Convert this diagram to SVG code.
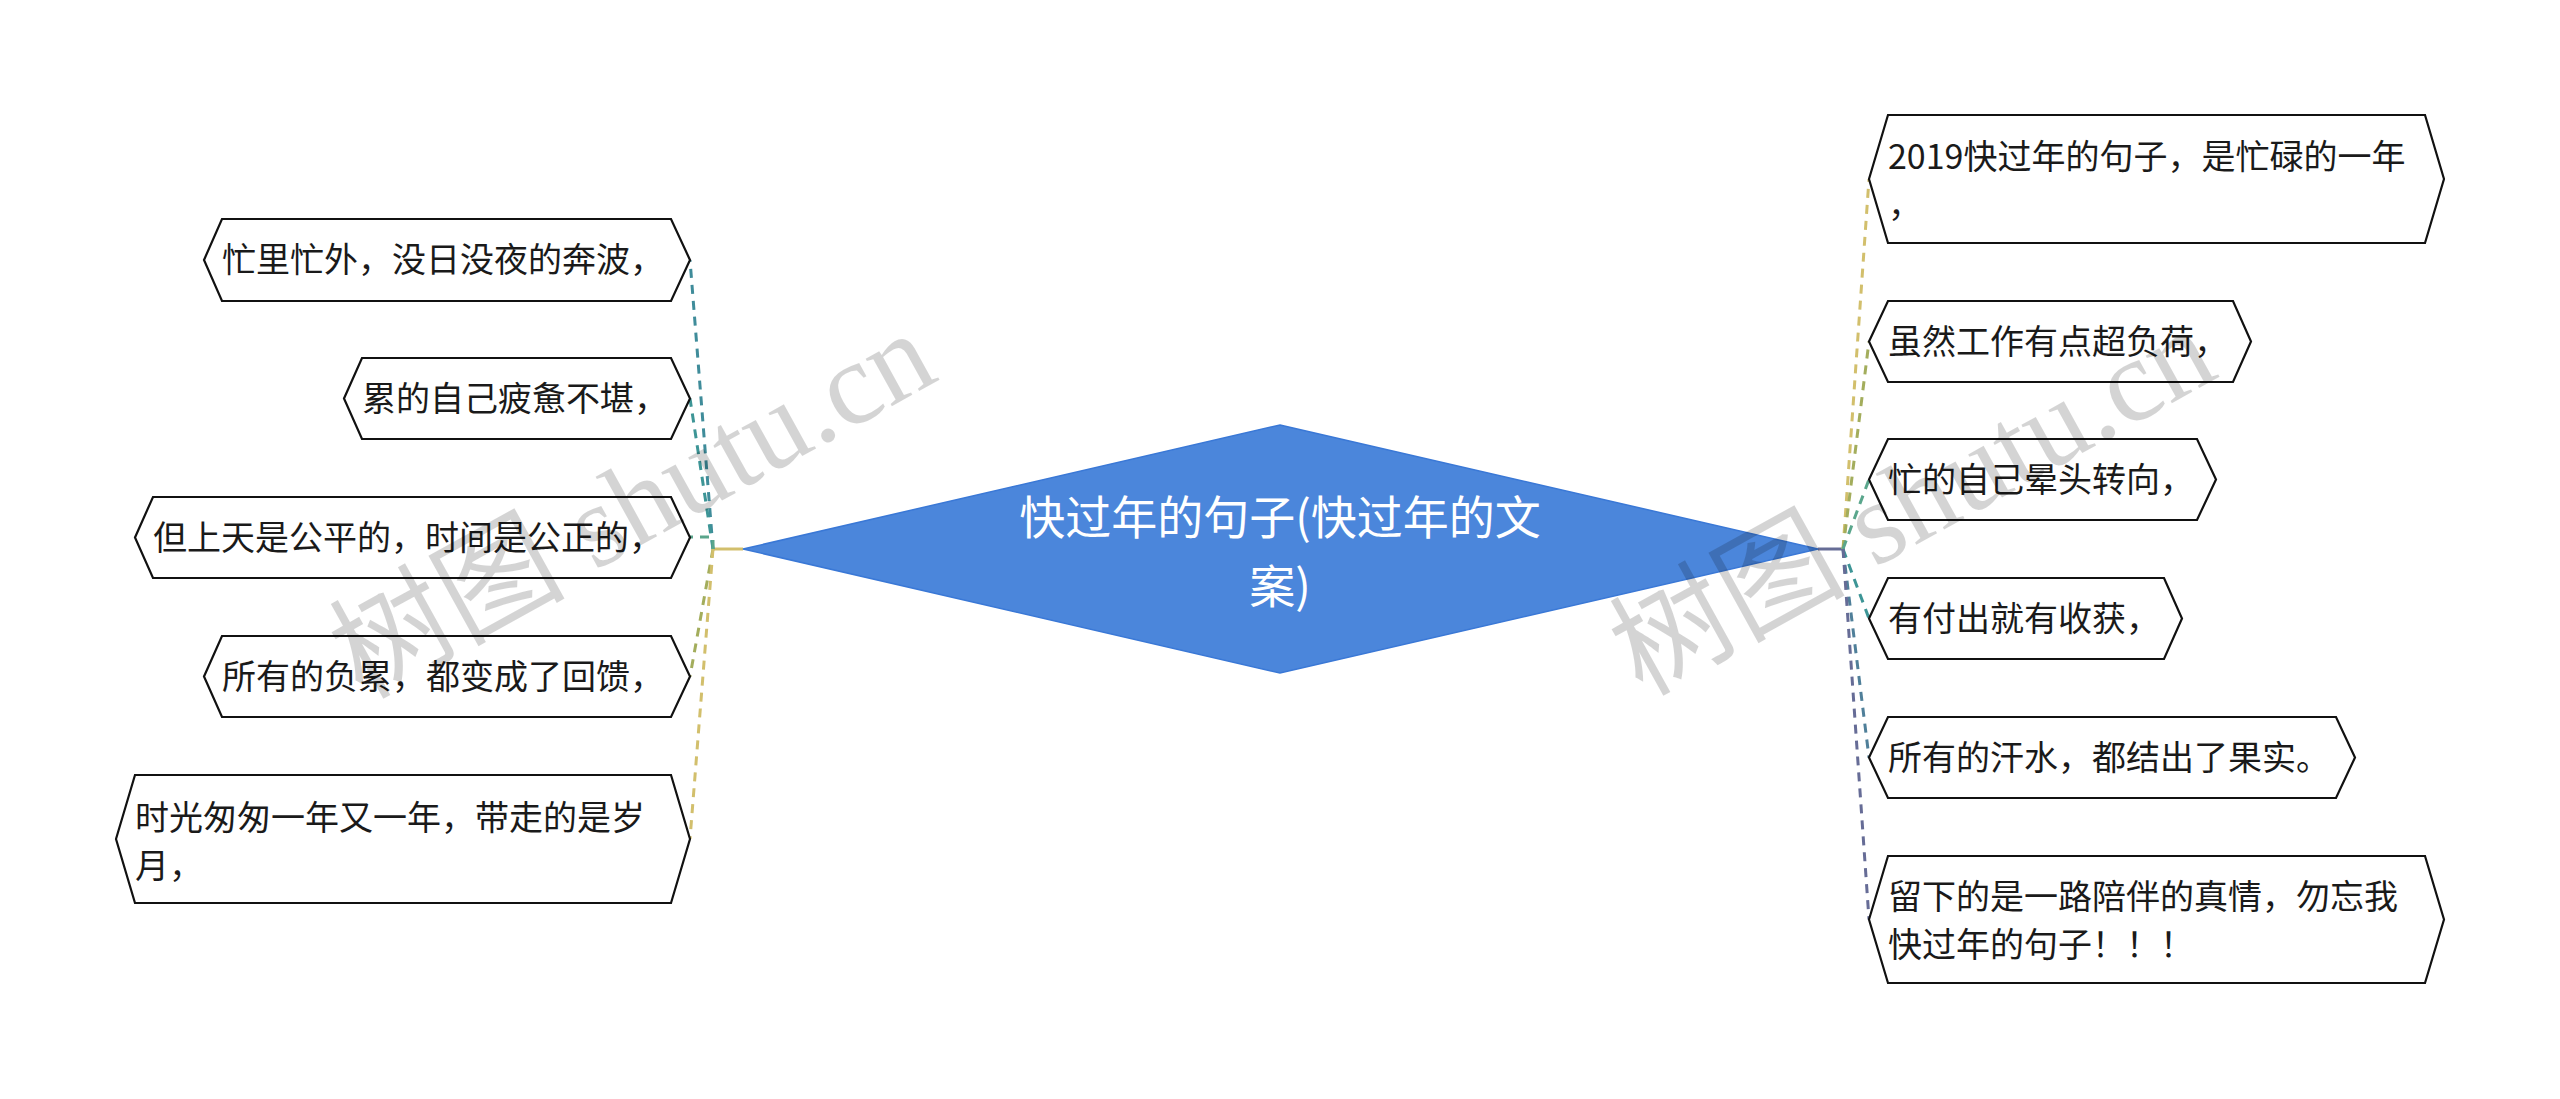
<svg xmlns="http://www.w3.org/2000/svg" width="2560" height="1099" viewBox="0 0 2560 1099">
<style>
.bg{fill:#ffffff}
.box{fill:#ffffff;stroke:#111111;stroke-width:2.2;stroke-linejoin:miter}
.t{font-family:"Noto Sans CJK SC","Noto Sans",sans-serif;font-size:34px;fill:#1a1a1a}
.ct{font-family:"Noto Sans CJK SC","Noto Sans",sans-serif;font-size:46px;fill:#ffffff;text-anchor:middle}
.c{fill:none;stroke-width:3;stroke-dasharray:9 7}
.stub{fill:none;stroke-width:3}
.wm{font-family:"Liberation Serif","Noto Sans CJK SC",serif;font-size:118px;fill:#000000;fill-opacity:0.17}
</style>
<rect class="bg" x="0" y="0" width="2560" height="1099"/>

<g id="connectors">
  <path class="stub" stroke="#d2bf6c" d="M743 549 H713"/>
  <path class="c" stroke="#3f8c9a" d="M713 549 L690 260"/>
  <path class="c" stroke="#3d9596" d="M713 549 L690 398.5"/>
  <path class="c" stroke="#5aa68c" d="M713 549 V537 H690"/>
  <path class="c" stroke="#a3ad5c" d="M713 549 L690 676.5"/>
  <path class="c" stroke="#d2bf6c" d="M713 549 L690 839"/>

  <path class="stub" stroke="#666c96" d="M1818 549 H1843"/>
  <path class="c" stroke="#d2bf6c" d="M1843 549 L1869 179"/>
  <path class="c" stroke="#a3ad5c" d="M1843 549 L1869 341.5"/>
  <path class="c" stroke="#5aa68c" d="M1843 549 L1869 479.5"/>
  <path class="c" stroke="#3d9596" d="M1843 549 L1869 618.5"/>
  <path class="c" stroke="#4f7f99" d="M1843 549 L1869 757.5"/>
  <path class="c" stroke="#666c96" d="M1843 549 L1869 919.5"/>
</g>

<g id="center">
  <polygon points="1280,425 1818,549 1280,673 743,549" fill="#4b86db" stroke="#3a78d6" stroke-width="1.5"/>
  <text class="ct" x="1280" y="534">快过年的句子(快过年的文</text>
  <text class="ct" x="1280" y="603">案)</text>
</g>

<g id="L1">
  <polygon class="box" points="204,260 222,219 671,219 690,260 671,301 222,301"/>
  <text class="t" x="222" y="272">忙里忙外，没日没夜的奔波，</text>
</g>
<g id="L2">
  <polygon class="box" points="344,398.5 362,358 671,358 690,398.5 671,439 362,439"/>
  <text class="t" x="362" y="410.5">累的自己疲惫不堪，</text>
</g>
<g id="L3">
  <polygon class="box" points="135,537.5 153,497 671,497 690,537.5 671,578 153,578"/>
  <text class="t" x="153" y="549.5">但上天是公平的，时间是公正的，</text>
</g>
<g id="L4">
  <polygon class="box" points="204,676.5 222,636 671,636 690,676.5 671,717 222,717"/>
  <text class="t" x="222" y="688.5">所有的负累，都变成了回馈，</text>
</g>
<g id="L5">
  <polygon class="box" points="116,839 135,775 671,775 690,839 671,903 135,903"/>
  <text class="t" x="135" y="830">时光匆匆一年又一年，带走的是岁</text>
  <text class="t" x="135" y="878">月，</text>
</g>

<g id="R1">
  <polygon class="box" points="1869,179 1888,115 2425,115 2444,179 2425,243 1888,243"/>
  <text class="t" x="1888" y="169">2019快过年的句子，是忙碌的一年</text>
  <text class="t" x="1888" y="217">，</text>
</g>
<g id="R2">
  <polygon class="box" points="1869,341.5 1888,301 2233,301 2251,341.5 2233,382 1888,382"/>
  <text class="t" x="1888" y="353.5">虽然工作有点超负荷，</text>
</g>
<g id="R3">
  <polygon class="box" points="1869,479.5 1888,439 2197,439 2216,479.5 2197,520 1888,520"/>
  <text class="t" x="1888" y="491.5">忙的自己晕头转向，</text>
</g>
<g id="R4">
  <polygon class="box" points="1869,618.5 1888,578 2164,578 2182,618.5 2164,659 1888,659"/>
  <text class="t" x="1888" y="630.5">有付出就有收获，</text>
</g>
<g id="R5">
  <polygon class="box" points="1869,757.5 1888,717 2336,717 2355,757.5 2336,798 1888,798"/>
  <text class="t" x="1888" y="769.5">所有的汗水，都结出了果实。</text>
</g>
<g id="R6">
  <polygon class="box" points="1869,919.5 1888,856 2425,856 2444,919.5 2425,983 1888,983"/>
  <text class="t" x="1888" y="909">留下的是一路陪伴的真情，勿忘我</text>
  <text class="t" x="1888" y="957">快过年的句子！！！</text>
</g>

<g id="watermarks">
  <text class="wm" transform="translate(362,700) rotate(-29)">树图 shutu.cn</text>
  <text class="wm" transform="translate(1642,697) rotate(-29)">树图 shutu.cn</text>
</g>
</svg>
